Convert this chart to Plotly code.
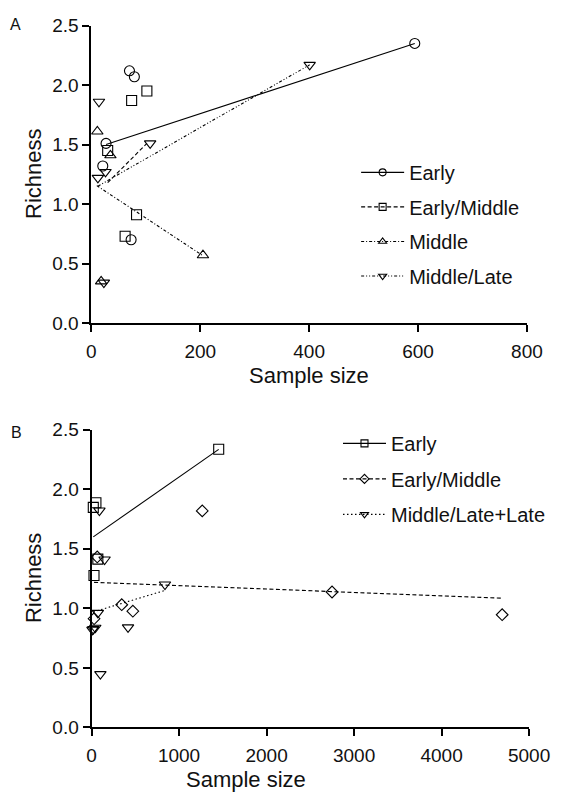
import plotly.graph_objects as go

W, H = 567, 801
FONT = "Liberation Sans, Arial, Helvetica, sans-serif"

# ---- Panel A: richness vs sample size by period ----
a_groups = ["Early", "Early/Middle", "Middle", "Middle/Late"]
a_x = {
    "Early": [70, 79, 27, 21, 73, 594],
    "Early/Middle": [74, 102, 30, 83, 62],
    "Middle": [11, 35, 205, 18],
    "Middle/Late": [14, 108, 12, 26, 23, 401],
}
a_y = {
    "Early": [2.12, 2.07, 1.51, 1.32, 0.70, 2.35],
    "Early/Middle": [1.87, 1.95, 1.45, 0.91, 0.73],
    "Middle": [1.61, 1.41, 0.57, 0.35],
    "Middle/Late": [1.86, 1.51, 1.22, 1.27, 0.34, 2.17],
}
# fitted regression lines (endpoints)
a_fit_x = {
    "Early": [27, 594],
    "Early/Middle": [30, 102],
    "Middle": [10, 205],
    "Middle/Late": [12, 401],
}
a_fit_y = {
    "Early": [1.50, 2.35],
    "Early/Middle": [1.18, 1.51],
    "Middle": [1.155, 0.566],
    "Middle/Late": [1.15, 2.17],
}
a_x_ticks = [0, 200, 400, 600, 800]

# ---- Panel B ----
b_groups = ["Early", "Early/Middle", "Middle/Late+Late"]
b_x = {
    "Early": [1453, 50, 20, 72, 28],
    "Early/Middle": [1265, 65, 345, 472, 29, 2748, 4692],
    "Middle/Late+Late": [90, 149, 839, 72, 21, 43, 10, 417, 101],
}
b_y = {
    "Early": [2.336, 1.886, 1.848, 1.413, 1.276],
    "Early/Middle": [1.818, 1.431, 1.030, 0.976, 0.913, 1.137, 0.946],
    "Middle/Late+Late": [1.821, 1.410, 1.200, 0.962, 0.826, 0.837, 0.820, 0.840, 0.447],
}
b_fit_x = {
    "Early": [20, 1453],
    "Early/Middle": [29, 4692],
    "Middle/Late+Late": [21, 839],
}
b_fit_y = {
    "Early": [1.60, 2.335],
    "Early/Middle": [1.218, 1.085],
    "Middle/Late+Late": [0.97, 1.15],
}
b_x_ticks = [0, 1000, 2000, 3000, 4000, 5000]
y_ticks = [0.0, 0.5, 1.0, 1.5, 2.0, 2.5]

a_symbol = {"Early": "circle-open", "Early/Middle": "square-open",
            "Middle": "triangle-up-open", "Middle/Late": "triangle-down-open"}
a_dash = {"Early": "solid", "Early/Middle": "4px,2.5px",
          "Middle": "3px,2px,1px,2px", "Middle/Late": "3px,2px,1px,2px,1px,2px"}
b_symbol = {"Early": "square-open", "Early/Middle": "diamond-open",
            "Middle/Late+Late": "triangle-down-open"}
b_dash = {"Early": "solid", "Early/Middle": "4px,2.5px",
          "Middle/Late+Late": "1.5px,2.5px"}
msize = {"circle-open": 10, "square-open": 10, "triangle-up-open": 10,
         "triangle-down-open": 10, "diamond-open": 9}


def px_x(p):
    return p / W


def px_y(p):
    return 1 - p / H


fig = go.Figure()
legend_layout = {}
legend_count = [0]


def add_panel(groups, xs, ys, fx, fy, symbols, dashes, xa, ya, leg_x, leg_y0, leg_step):
    for i, g in enumerate(groups):
        sym = symbols[g]
        fig.add_trace(go.Scatter(
            x=fx[g], y=fy[g], mode="lines", xaxis=xa, yaxis=ya,
            line=dict(color="black", width=1.1, dash=dashes[g]),
            showlegend=False, hoverinfo="skip"))
        fig.add_trace(go.Scatter(
            x=xs[g], y=ys[g], mode="markers", xaxis=xa, yaxis=ya,
            marker=dict(symbol=sym, size=msize[sym], color="black",
                        line=dict(width=1.1, color="black")),
            cliponaxis=False, showlegend=False, name=g))
        # each legend row gets its own legend box so the row spacing can be set
        legend_count[0] += 1
        key = "legend" if legend_count[0] == 1 else f"legend{legend_count[0]}"
        legend_layout[key] = dict(
            x=px_x(leg_x), y=px_y(leg_y0 + i * leg_step),
            xanchor="left", yanchor="middle",
            font=dict(family=FONT, size=20, color="#111"),
            itemwidth=43, bgcolor="rgba(0,0,0,0)", borderwidth=0)
        fig.add_trace(go.Scatter(
            x=[None], y=[None], mode="lines+markers", xaxis=xa, yaxis=ya,
            name=g, legend=key,
            line=dict(color="black", width=1.1, dash=dashes[g]),
            marker=dict(symbol=sym, size=7, color="black",
                        line=dict(width=1.1, color="black"))))


add_panel(a_groups, a_x, a_y, a_fit_x, a_fit_y, a_symbol, a_dash,
          "x", "y", 368, 166.7, 35.5)
add_panel(b_groups, b_x, b_y, b_fit_x, b_fit_y, b_symbol, b_dash,
          "x2", "y2", 349, 445, 36.5)

axis_common = dict(
    showline=True, linecolor="black", linewidth=2,
    ticks="outside", ticklen=7, tickwidth=1.5, tickcolor="black",
    showgrid=False, zeroline=False,
    tickfont=dict(family=FONT, size=19, color="#111"),
)

fig.update_layout(
    width=W, height=H,
    margin=dict(l=0, r=0, t=0, b=0),
    paper_bgcolor="white", plot_bgcolor="white",
    font=dict(family=FONT, color="#111"),
    xaxis=dict(domain=[px_x(90.5), px_x(547)], range=[0, 800],
               tickvals=a_x_ticks, anchor="y", ticklabelstandoff=3, **axis_common),
    yaxis=dict(domain=[px_y(321.5), px_y(16)], range=[0, 2.5],
               tickvals=y_ticks, tickformat=".1f", anchor="x", **axis_common),
    xaxis2=dict(domain=[px_x(90.7), px_x(549.3)], range=[0, 5000],
                tickvals=b_x_ticks, anchor="y2", ticklabelstandoff=3, **axis_common),
    yaxis2=dict(domain=[px_y(736.7), px_y(431)], range=[0, 2.5],
                tickvals=y_ticks, tickformat=".1f", anchor="x2", **axis_common),
    **legend_layout,
)

# axis titles and panel letters: (text, x px, y px, angle, size, y anchor)
texts = [
    ("Sample size", 318.5, 375.0, 0, 22, "middle"),
    ("Sample size", 252.5, 775.0, 0, 22, "top"),
    ("Richness", 30, 168.7, -90, 22, "middle"),
    ("Richness", 30, 583.8, -90, 22, "middle"),
    ("A", 11, 15, 0, 16, "middle"),
    ("B", 12, 434, 0, 16, "middle"),
]
for t, x, y, ang, s, ya in texts:
    fig.add_annotation(text=t, x=px_x(x), y=px_y(y), xref="paper", yref="paper",
                       showarrow=False, textangle=ang, xanchor="center",
                       yanchor=ya, font=dict(family=FONT, size=s, color="#111"))

fig.write_html("out.html")
